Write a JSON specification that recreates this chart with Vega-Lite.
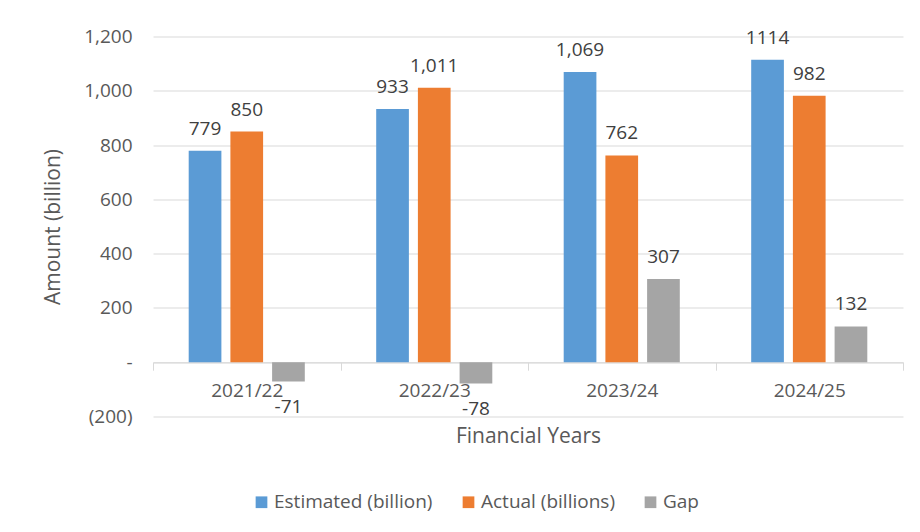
{
  "$schema": "https://vega.github.io/schema/vega-lite/v6.json",
  "autosize": {"type": "none"},
  "width": 750,
  "height": 380,
  "padding": {"left": 153, "top": 36.5, "right": 17, "bottom": 115.5},
  "background": "white",
  "config": {"view": {"stroke": null}, "font": "Open Sans"},
  "data": {
    "values": [
      {"year": "2021/22", "series": "Estimated (billion)", "value": 779, "label": "779"},
      {"year": "2021/22", "series": "Actual (billions)", "value": 850, "label": "850"},
      {"year": "2021/22", "series": "Gap", "value": -71, "label": "-71"},
      {"year": "2022/23", "series": "Estimated (billion)", "value": 933, "label": "933"},
      {"year": "2022/23", "series": "Actual (billions)", "value": 1011, "label": "1,011"},
      {"year": "2022/23", "series": "Gap", "value": -78, "label": "-78"},
      {"year": "2023/24", "series": "Estimated (billion)", "value": 1069, "label": "1,069"},
      {"year": "2023/24", "series": "Actual (billions)", "value": 762, "label": "762"},
      {"year": "2023/24", "series": "Gap", "value": 307, "label": "307"},
      {"year": "2024/25", "series": "Estimated (billion)", "value": 1114, "label": "1114"},
      {"year": "2024/25", "series": "Actual (billions)", "value": 982, "label": "982"},
      {"year": "2024/25", "series": "Gap", "value": 132, "label": "132"}
    ]
  },
  "encoding": {
    "x": {
      "field": "year",
      "type": "nominal",
      "sort": ["2021/22", "2022/23", "2023/24", "2024/25"],
      "scale": {"paddingInner": 0, "paddingOuter": 0},
      "axis": {
        "title": "Financial Years",
        "orient": "bottom",
        "offset": -54.3,
        "domainColor": "#d9d9d9",
        "tickColor": "#d9d9d9",
        "tickSize": 8,
        "tickBand": "extent",
        "labelAngle": 0,
        "labelFontSize": 19,
        "labelColor": "#595959",
        "labelPadding": 11,
        "titleFontSize": 21,
        "titleFontWeight": "normal",
        "titleColor": "#595959",
        "titlePadding": 25,
        "grid": false
      }
    },
    "xOffset": {
      "field": "series",
      "type": "nominal",
      "sort": ["Estimated (billion)", "Actual (billions)", "Gap"],
      "scale": {"paddingInner": 0.216, "paddingOuter": 0.856}
    },
    "y": {
      "field": "value",
      "type": "quantitative",
      "scale": {"domain": [-200, 1200], "nice": false},
      "axis": {
        "title": "Amount (billion)",
        "values": [-200, 0, 200, 400, 600, 800, 1000, 1200],
        "labelExpr": "datum.value == 0 ? '-\u00a0\u00a0\u00a0' : (datum.value < 0 ? '(' + format(-datum.value, ',') + ')' : format(datum.value, ',') + '\u00a0')",
        "domain": false,
        "ticks": false,
        "grid": true,
        "gridColor": "#d9d9d9",
        "labelFontSize": 19,
        "labelColor": "#595959",
        "labelPadding": 21,
        "titleFontSize": 21,
        "titleFontWeight": "normal",
        "titleColor": "#595959",
        "titlePadding": 20
      }
    }
  },
  "layer": [
    {
      "mark": {"type": "bar"},
      "encoding": {
        "color": {
          "field": "series",
          "type": "nominal",
          "sort": ["Estimated (billion)", "Actual (billions)", "Gap"],
          "scale": {
            "domain": ["Estimated (billion)", "Actual (billions)", "Gap"],
            "range": ["#5B9BD5", "#ED7D31", "#A5A5A5"]
          },
          "legend": {
            "orient": "none",
            "legendX": 99,
            "legendY": 456,
            "direction": "horizontal",
            "title": null,
            "symbolType": "square",
            "symbolSize": 137,
            "symbolStrokeWidth": 0,
            "labelFontSize": 19,
            "labelColor": "#595959",
            "labelOffset": 3,
            "columnPadding": 26,
            "padding": 0
          }
        }
      }
    },
    {
      "transform": [{"filter": "datum.value >= 0"}],
      "mark": {"type": "text", "baseline": "alphabetic", "dy": -16, "fontSize": 19, "color": "#404040"},
      "encoding": {"text": {"field": "label", "type": "nominal"}}
    },
    {
      "transform": [{"filter": "datum.value < 0"}],
      "mark": {"type": "text", "baseline": "alphabetic", "dy": 32, "fontSize": 19, "color": "#404040"},
      "encoding": {"text": {"field": "label", "type": "nominal"}}
    }
  ]
}
